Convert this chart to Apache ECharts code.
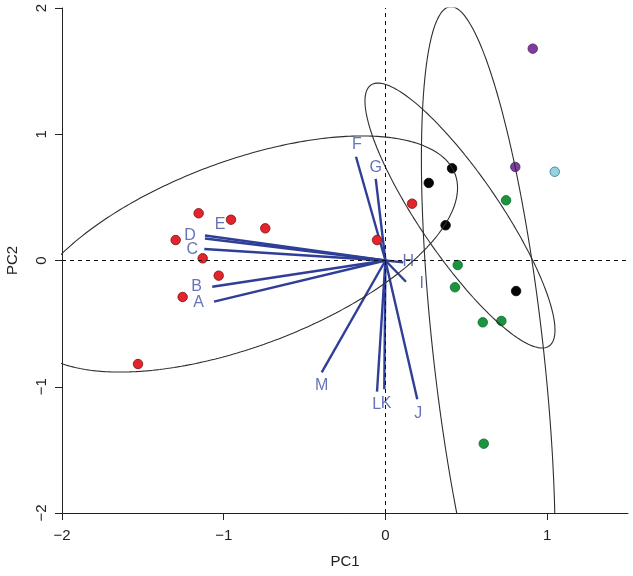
<!DOCTYPE html>
<html>
<head>
<meta charset="utf-8">
<script src="https://cdn.jsdelivr.net/npm/echarts@6/dist/echarts.min.js"></script>
<style>
html,body{margin:0;padding:0;background:#fff;}
#chart{width:633px;height:576px;}
</style>
</head>
<body>
<div id="chart"></div>
<script>
// ---- data ----
var xTickValues = [-2, -1, 0, 1];
var yTickValues = [-2, -1, 0, 1, 2];

var redPC1 = [-1.155, -0.955, -0.743, -1.297, -1.130, -1.031, -1.254, -1.530, -0.052, 0.165];
var redPC2 = [0.374, 0.323, 0.255, 0.162, 0.017, -0.120, -0.289, -0.820, 0.162, 0.450];
var blackPC1 = [0.412, 0.268, 0.372, 0.808];
var blackPC2 = [0.730, 0.614, 0.279, -0.242];
var greenPC1 = [0.746, 0.447, 0.430, 0.602, 0.717, 0.608];
var greenPC2 = [0.477, -0.036, -0.212, -0.490, -0.479, -1.451];
var purplePC1 = [0.911, 0.803];
var purplePC2 = [1.678, 0.741];
var cyanPC1 = [1.047];
var cyanPC2 = [0.703];

var varNames = ['A','B','C','D','E','F','G','H','I','J','K','L','M'];
var varPC1 = [-1.060, -1.071, -1.120, -1.116, -1.116, -0.182, -0.060, 0.110, 0.127, 0.197, -0.007, -0.052, -0.394];
var varPC2 = [-0.326, -0.208, 0.091, 0.174, 0.198, 0.822, 0.646, -0.015, -0.168, -1.099, -1.020, -1.039, -0.886];
var labelPC1 = [-1.155, -1.167, -1.194, -1.208, -1.023, -0.177, -0.060, 0.142, 0.224, 0.203, 0.004, -0.054, -0.394];
var labelPC2 = [-0.331, -0.208, 0.083, 0.194, 0.287, 0.915, 0.738, -0.010, -0.181, -1.216, -1.131, -1.145, -0.994];

// ellipse parameters: centre and two conjugate semi-diameters
var ellipseCx = [-0.893, 0.461, 0.636];
var ellipseCy = [0.0515, 0.356, -0.722];
var ellipseUx = [1.339, 0.5875, -0.231];
var ellipseUy = [0.523, -0.907, 2.733];
var ellipseVx = [0, 0, 0.343];
var ellipseVy = [0.775, 0.528, 0];

// ---- build ----
function zip(a, b) { return a.map(function (v, i) { return [v, b[i]]; }); }
function ellipsePath(i) {
  var pts = [];
  var n = 360;
  for (var k = 0; k <= n; k++) {
    var t = 2 * Math.PI * k / n;
    pts.push([
      ellipseCx[i] + ellipseUx[i] * Math.cos(t) + ellipseVx[i] * Math.sin(t),
      ellipseCy[i] + ellipseUy[i] * Math.cos(t) + ellipseVy[i] * Math.sin(t)
    ]);
  }
  return pts;
}
function fmt(v) { return String(v).replace('-', '\u2212'); }

var series = [];
// dashed reference lines
series.push({
  type: 'line', data: [], silent: true,
  markLine: {
    silent: true, symbol: 'none', animation: false,
    label: { show: false },
    lineStyle: { color: '#111', type: [4, 4], width: 1 },
    data: [{ xAxis: 0 }, { yAxis: 0 }]
  }
});
// ellipses
for (var e = 0; e < ellipseCx.length; e++) {
  series.push({
    type: 'line', data: ellipsePath(e), showSymbol: false, symbol: 'none',
    clip: true, silent: true, animation: false,
    lineStyle: { color: '#2e2e2e', width: 1.1 }
  });
}
// points
function pointSeries(xs, ys, color, border) {
  return {
    type: 'scatter', data: zip(xs, ys), symbol: 'circle', symbolSize: 9.5,
    silent: true, animation: false,
    itemStyle: { color: color, borderColor: border, borderWidth: 0.8, opacity: 1 }
  };
}
series.push(pointSeries(redPC1, redPC2, '#e3242b', '#7a1010'));
series.push(pointSeries(blackPC1, blackPC2, '#050505', '#000'));
series.push(pointSeries(greenPC1, greenPC2, '#1b9440', '#0f6a2c'));
series.push(pointSeries(purplePC1, purplePC2, '#7e3d9c', '#4d2366'));
series.push(pointSeries(cyanPC1, cyanPC2, '#93d4e3', '#3b6f80'));
// loading arrows
series.push({
  type: 'lines', coordinateSystem: 'cartesian2d', silent: true, animation: false,
  polyline: false,
  lineStyle: { color: '#2f3f97', width: 2.4, opacity: 1 },
  data: varNames.map(function (n, i) { return { coords: [[0, 0], [varPC1[i], varPC2[i]]] }; })
});
// arrow labels
series.push({
  type: 'scatter', silent: true, animation: false, symbolSize: 1,
  itemStyle: { color: 'rgba(0,0,0,0)' },
  data: varNames.map(function (n, i) { return { name: n, value: [labelPC1[i], labelPC2[i]] }; }),
  label: {
    show: true, position: 'inside', formatter: '{b}',
    fontFamily: 'Liberation Sans, Arial, sans-serif', fontSize: 16, color: '#3f51a8'
  }
});

var axisText = { fontFamily: 'Liberation Sans, Arial, sans-serif', fontSize: 15, color: '#222' };
var option = {
  animation: false,
  backgroundColor: '#fff',
  grid: { left: 62, right: 5, top: 8, bottom: 63, containLabel: false, outerBoundsMode: 'none' },
  xAxis: {
    type: 'value', min: -2, max: 1.5,
    name: 'PC1', nameLocation: 'middle', nameGap: 41,
    nameTextStyle: axisText,
    axisLine: { show: true, onZero: false, lineStyle: { color: '#222', width: 1 } },
    axisTick: { show: true, length: 7, customValues: xTickValues, lineStyle: { color: '#222' } },
    axisLabel: Object.assign({ customValues: xTickValues, margin: 15, formatter: fmt }, axisText),
    splitLine: { show: false }
  },
  yAxis: {
    type: 'value', min: -2, max: 2, interval: 1,
    name: 'PC2', nameLocation: 'middle', nameGap: 42, nameRotate: 90,
    nameTextStyle: axisText,
    axisLine: { show: true, onZero: false, lineStyle: { color: '#222', width: 1 } },
    axisTick: { show: true, length: 7, customValues: yTickValues, lineStyle: { color: '#222' } },
    axisLabel: Object.assign({ customValues: yTickValues, margin: 13, rotate: 90, formatter: fmt }, axisText),
    splitLine: { show: false }
  },
  series: series
};
var chart = echarts.init(document.getElementById('chart'), null, { renderer: 'canvas' });
chart.setOption(option);
</script>
</body>
</html>
